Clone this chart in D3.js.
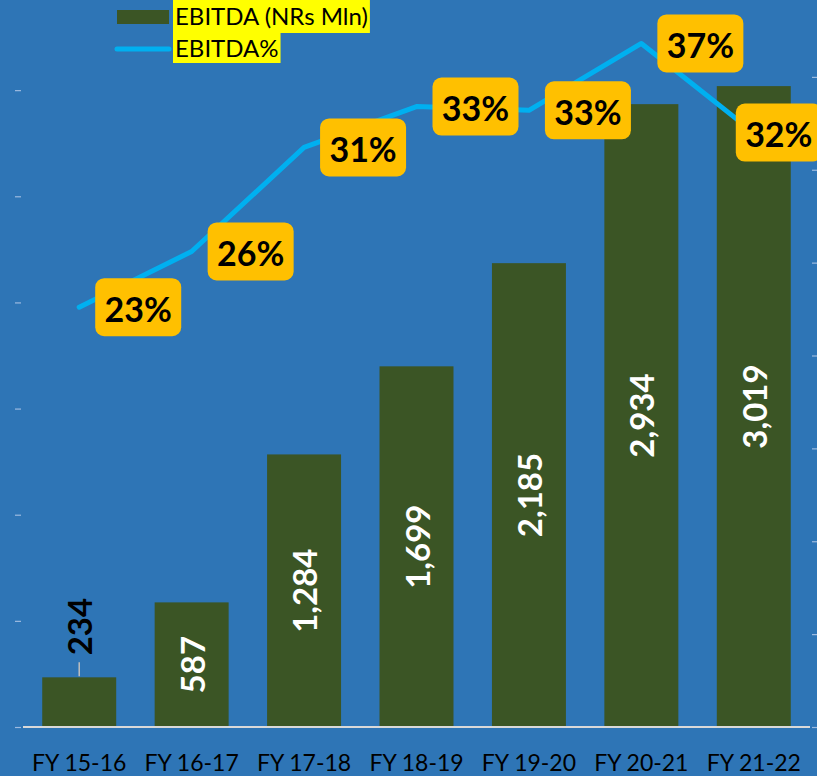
<!DOCTYPE html>
<html><head><meta charset="utf-8">
<script src="https://cdn.jsdelivr.net/npm/d3@7"></script>
<style>
html,body{margin:0;padding:0;background:#2E75B6;}
svg{display:block;}
</style></head>
<body>
<script>
const categories = ["FY 15-16","FY 16-17","FY 17-18","FY 18-19","FY 19-20","FY 20-21","FY 21-22"];
const ebitda = [234, 587, 1284, 1699, 2185, 2934, 3019];
const ebitdaPct = [22.6, 25.6, 31.2, 33.4, 33.2, 36.8, 32.0];
const leftTicks = [0, 500, 1000, 1500, 2000, 2500, 3000, 3500];
const rightTicks = [0, 5, 10, 15, 20, 25, 30, 35, 40];
const legendLabels = ["EBITDA (NRs Mln)", "EBITDA%"];

const W = 817, H = 776;
const BG = "#2E75B6", BAR = "#3B5525", LINE = "#00B0F0", BOX = "#FFC000";
const FONT = "Lato, 'Open Sans', sans-serif";

const svg = d3.select("body").append("svg").attr("width", W).attr("height", H);
svg.append("rect").attr("width", W).attr("height", H).attr("fill", BG);

const x = d3.scaleBand().domain(categories).range([23, 810]).paddingInner(0.342).paddingOuter(0.171);
const yL = d3.scaleLinear().domain([0, 3500]).range([727, -16]);
const yR = d3.scaleLinear().domain([0, 40]).range([727, -16]);

// tick marks (no labels)
const axL = svg.append("g").attr("transform", "translate(21,0)")
  .call(d3.axisLeft(yL).tickValues(leftTicks).tickSize(6).tickFormat(""));
const axR = svg.append("g").attr("transform", "translate(812,0)")
  .call(d3.axisRight(yR).tickValues(rightTicks).tickSize(6).tickFormat(""));
[axL, axR].forEach(a => {
  a.select(".domain").remove();
  a.selectAll(".tick line").attr("stroke", "#9dbbe0").attr("stroke-width", 1.2);
});

// bars
svg.selectAll("rect.bar").data(ebitda).join("rect").attr("class", "bar")
  .attr("x", (d, i) => x(categories[i]))
  .attr("width", x.bandwidth())
  .attr("y", d => yL(d))
  .attr("height", d => yL(0) - yL(d))
  .attr("fill", BAR);

// baseline
svg.append("line").attr("x1", 23).attr("x2", 810).attr("y1", yL(0)).attr("y2", yL(0))
  .attr("stroke", "#d9d9d9").attr("stroke-width", 2);

// category labels
svg.append("g").selectAll("text").data(categories).join("text")
  .attr("x", d => x(d) + x.bandwidth() / 2)
  .attr("y", 771)
  .attr("text-anchor", "middle")
  .attr("font-family", FONT).attr("font-size", 23).attr("fill", "#000")
  .text(d => d);

// bar value labels
const fmt = d3.format(",");
ebitda.forEach((d, i) => {
  const cx = x(categories[i]) + x.bandwidth() / 2;
  const barH = yL(0) - yL(d);
  const g = svg.append("g");
  if (barH < 80) {
    // outside, with leader line
    g.append("line").attr("x1", cx).attr("x2", cx)
      .attr("y1", yL(d) - 1).attr("y2", yL(d) - 15)
      .attr("stroke", "#bfbfbf").attr("stroke-width", 1.5);
    g.append("text")
      .attr("transform", `translate(${cx},${yL(d) - 22}) rotate(-90)`)
      .attr("text-anchor", "start").attr("dominant-baseline", "central")
      .attr("font-family", FONT).attr("font-weight", "bold").attr("font-size", 33)
      .attr("fill", "#000").text(fmt(d));
  } else {
    const cy = (yL(d) + yL(0)) / 2;
    g.append("text")
      .attr("transform", `translate(${cx},${cy}) rotate(-90)`)
      .attr("text-anchor", "middle").attr("dominant-baseline", "central")
      .attr("font-family", FONT).attr("font-weight", "bold").attr("font-size", 33)
      .attr("fill", "#fff").text(fmt(d));
  }
});

// line
const pts = ebitdaPct.map((v, i) => [x(categories[i]) + x.bandwidth() / 2, yR(v)]);
svg.append("path").attr("d", d3.line()(pts))
  .attr("fill", "none").attr("stroke", LINE).attr("stroke-width", 5)
  .attr("stroke-linejoin", "round").attr("stroke-linecap", "round");

// pct labels
const bw = 86, bh = 58;
pts.forEach(([px, py], i) => {
  let bx = px + 16;
  if (bx + bw > W) bx = px - 18;
  svg.append("rect").attr("x", bx).attr("y", py - bh / 2).attr("width", bw).attr("height", bh)
    .attr("rx", 9).attr("fill", BOX);
  svg.append("text").attr("x", bx + bw / 2).attr("y", py + 1)
    .attr("text-anchor", "middle").attr("dominant-baseline", "central")
    .attr("font-family", FONT).attr("font-weight", "bold").attr("font-size", 34)
    .attr("fill", "#000").text(d3.format(".0f")(ebitdaPct[i]) + "%");
});

// legend
const lg = svg.append("g");
lg.append("rect").attr("x", 117).attr("y", 10).attr("width", 52).attr("height", 14).attr("fill", BAR);
lg.append("line").attr("x1", 117).attr("x2", 169).attr("y1", 49).attr("y2", 49)
  .attr("stroke", LINE).attr("stroke-width", 5).attr("stroke-linecap", "round");
const rows = [{y: 0, h: 33, base: 25}, {y: 33, h: 30, base: 57}];
legendLabels.forEach((t, i) => {
  const txt = lg.append("text").attr("x", 175).attr("y", rows[i].base)
    .attr("font-family", FONT).attr("font-size", 24).attr("fill", "#000").text(t);
  const w = txt.node().getComputedTextLength();
  lg.insert("rect", "text").attr("x", 173).attr("y", rows[i].y).attr("width", w + 4).attr("height", rows[i].h)
    .attr("fill", "#FFFF00");
});
</script>
</body></html>
